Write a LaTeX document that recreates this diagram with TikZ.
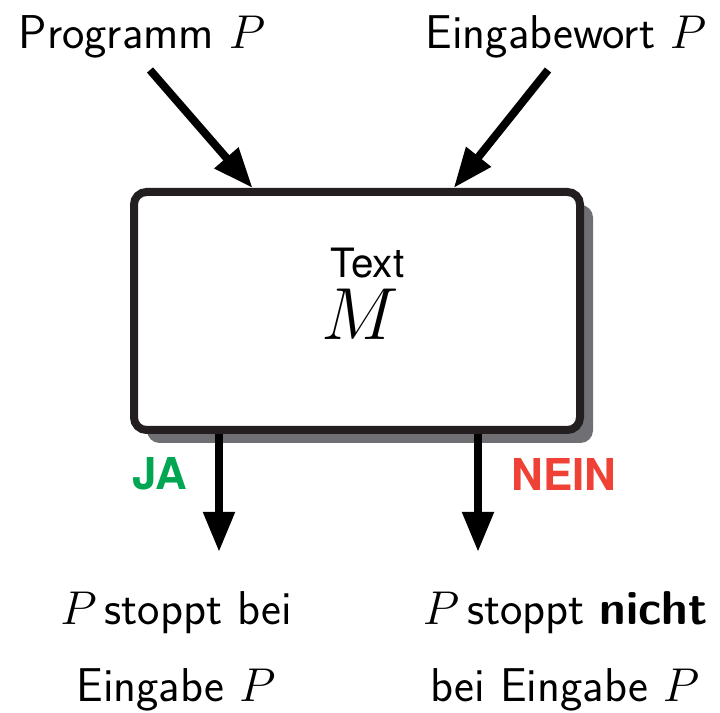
\RequirePackage{fix-cm}
\documentclass[tikz,border=0pt]{standalone}
\usepackage{fontspec}
\newfontfamily\helvfont{TeX Gyre Heros}
\usepackage{xcolor}
\usepackage{tikz}
\usetikzlibrary{arrows.meta, positioning, shadows, calc}

\definecolor{jagruen}{RGB}{0,166,81}
\definecolor{neinrot}{RGB}{239,65,54}
\definecolor{rahmen}{RGB}{35,31,32}
\definecolor{schatten}{RGB}{112,112,116}

\begin{document}
\begin{tikzpicture}[
    maschine/.style={draw=rahmen, fill=white, line width=1.6mm, rounded corners=2.5mm, minimum width=8.92cm, minimum height=4.76cm, drop shadow={shadow xshift=2.6mm, shadow yshift=-2.6mm, fill=schatten, opacity=1}},
    pfeil/.style={line width=1.6mm, -{Triangle[length=8mm, width=6mm]}},
    beschriftung/.style={font=\sffamily\fontsize{27}{44}\selectfont, inner sep=0pt},
    antwort/.style={font=\helvfont\bfseries\fontsize{25}{30}\selectfont, inner sep=0pt}
]
    \useasboundingbox (0,0) rectangle (14.4,14.26);

    % Maschine
    \node[maschine] (box) at (7.14,8.04) {};
    \node[font=\helvfont\fontsize{23}{27}\selectfont, anchor=base, inner sep=0pt] (text) at (7.35,8.7) {Text};
    \node[font=\fontsize{42}{50}\selectfont, anchor=base, inner sep=0pt] (m) at (7.2,7.46) {$M$};

    % Eingaben
    \node[beschriftung, anchor=base] (prog) at (2.84,13.28) {Programm $P$};
    \node[beschriftung, anchor=base] (wort) at (11.32,13.28) {Eingabewort $P$};
    \coordinate (prog start) at (3.0,12.86);
    \coordinate (wort start) at (10.96,12.86);
    \coordinate (prog ziel) at ($(box.north west)!0.27!(box.north east)$);
    \coordinate (wort ziel) at ($(box.north west)!0.713!(box.north east)$);
    \draw[pfeil] (prog start) -- (prog ziel);
    \draw[pfeil] (wort start) -- (wort ziel);

    % Ausgaenge
    \coordinate (ja ende) at (4.38,3.22);
    \coordinate (nein ende) at (9.56,3.22);
    \draw[pfeil] (box.south -| ja ende) -- (ja ende);
    \draw[pfeil] (box.south -| nein ende) -- (nein ende);
    \node[antwort, text=jagruen] (ja) at (3.2,4.78) {JA};
    \node[antwort, text=neinrot] (nein) at (11.28,4.78) {NEIN};

    % Ergebnisse
    \node[beschriftung, align=center] (halt) at (3.52,1.23) {$P$\,stoppt bei\\Eingabe $P$};
    \node[beschriftung, align=center] (nichthalt) at (11.3,1.23) {$P$\,stoppt \textbf{nicht}\\bei Eingabe $P$};
\end{tikzpicture}
\end{document}
